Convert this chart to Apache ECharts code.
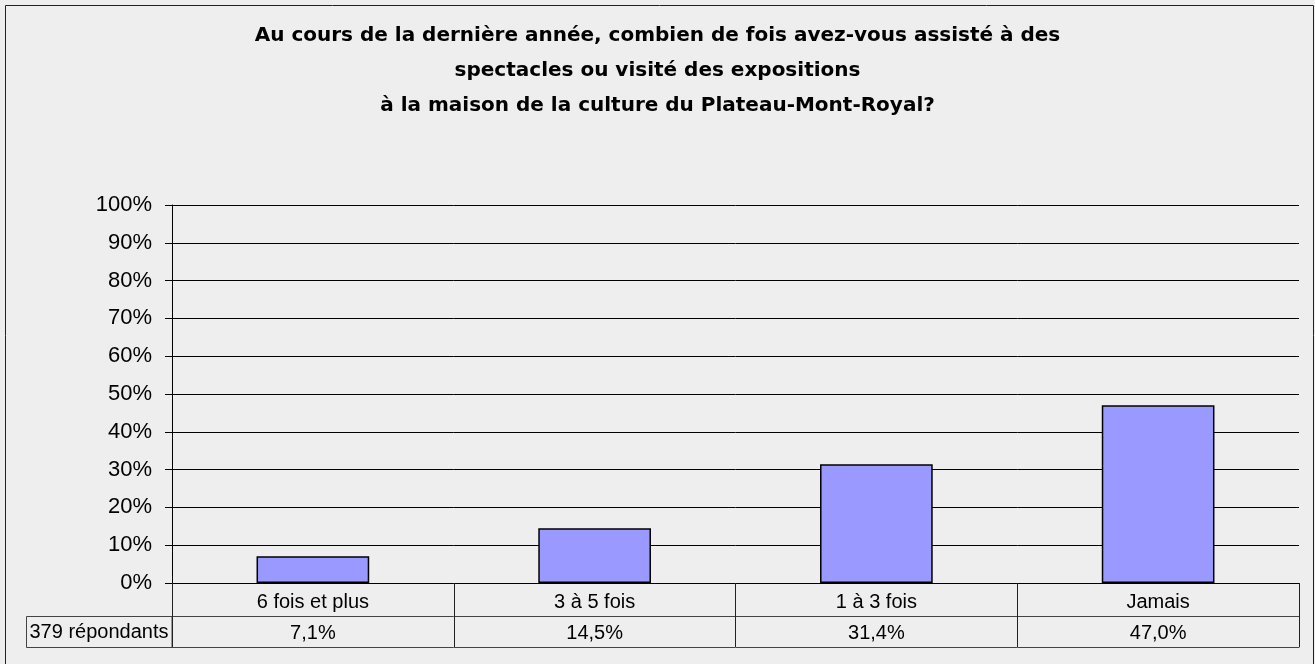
<!DOCTYPE html>
<html>
<head>
<meta charset="utf-8">
<script src="https://cdn.jsdelivr.net/npm/echarts@6/dist/echarts.min.js"></script>
<style>
  html, body { margin: 0; padding: 0; background: #eeeeee; }
  #chart { width: 1315px; height: 664px; }
</style>
</head>
<body>
<div id="chart"></div>
<script>
// données du graphique
const categories = ['6 fois et plus', '3 à 5 fois', '1 à 3 fois', 'Jamais'];
const values = [7.1, 14.5, 31.4, 47.0];
const rowLabel = '379 répondants';
const titleText = 'Au cours de la dernière année, combien de fois avez-vous assisté à des\nspectacles ou visité des expositions\nà la maison de la culture du Plateau-Mont-Royal?';

// valeurs formatées à la française pour la ligne du tableau
const valueLabels = values.map(v => v.toFixed(1).replace('.', ',') + '%');

const font = "'Liberation Sans', Arial, sans-serif";
const chart = echarts.init(document.getElementById('chart'));

const option = {
  backgroundColor: '#eeeeee',
  animation: false,
  title: {
    text: titleText,
    left: 'center',
    top: 13,
    textStyle: {
      fontFamily: "'DejaVu Sans', sans-serif",
      fontWeight: 'bold',
      fontSize: 20,
      lineHeight: 35,
      color: '#000'
    }
  },
  grid: { left: 172, right: 16, top: 205, bottom: 81 },
  xAxis: [
    {
      type: 'category',
      data: categories,
      position: 'bottom',
      axisLine: { show: true, lineStyle: { color: '#000', width: 1 } },
      axisTick: { show: true, length: 64, interval: 0, lineStyle: { color: '#222' } },
      axisLabel: { margin: 9, fontSize: 20, fontFamily: font, color: '#000', interval: 0 }
    },
    {
      type: 'category',
      data: valueLabels,
      position: 'bottom',
      offset: 33,
      axisLine: { show: true, lineStyle: { color: '#444', width: 1 } },
      axisTick: { show: false },
      axisLabel: { margin: 7, fontSize: 20, fontFamily: font, color: '#000', interval: 0 }
    },
    {
      type: 'category',
      data: categories,
      position: 'bottom',
      offset: 64,
      axisLine: { show: true, lineStyle: { color: '#444', width: 1 } },
      axisTick: { show: false },
      axisLabel: { show: false }
    }
  ],
  yAxis: {
    type: 'value',
    min: 0,
    max: 100,
    interval: 10,
    axisLine: { show: true, lineStyle: { color: '#000' } },
    axisTick: { show: true, length: 7, lineStyle: { color: '#000' } },
    axisLabel: { formatter: '{value}%', margin: 20, fontSize: 22, fontFamily: font, color: '#000' },
    splitLine: { show: true, lineStyle: { color: '#000', width: 1 } }
  },
  series: [
    {
      type: 'bar',
      data: values,
      barWidth: '40%',
      itemStyle: { color: '#9999ff', borderColor: '#000', borderWidth: 1.5 }
    }
  ],
  graphic: [
    {
      type: 'rect',
      shape: { x: 5.5, y: 5.5, width: 1308, height: 670 },
      style: { fill: 'none', stroke: '#222', lineWidth: 1 },
      silent: true
    },
    {
      type: 'rect',
      shape: { x: 26.5, y: 616.5, width: 145.5, height: 31 },
      style: { fill: 'none', stroke: '#444', lineWidth: 1 },
      silent: true
    },
    {
      type: 'text',
      x: 99,
      y: 632,
      style: {
        text: rowLabel,
        fontSize: 20,
        fontFamily: font,
        fill: '#000',
        align: 'center',
        verticalAlign: 'middle'
      },
      silent: true
    }
  ]
};

chart.setOption(option);
</script>
</body>
</html>
